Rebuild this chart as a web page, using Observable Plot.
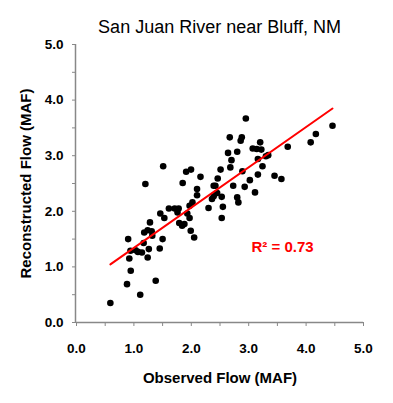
<!DOCTYPE html>
<html>
<head>
<meta charset="utf-8">
<script src="https://cdn.jsdelivr.net/npm/d3@7"></script>
<script src="https://cdn.jsdelivr.net/npm/@observablehq/plot@0.6"></script>
<style>
  html, body { margin: 0; padding: 0; background: #fff; }
  #wrap { width: 393px; height: 403px; font-family: "Liberation Sans", Arial, sans-serif; }
  #title { height: 36px; padding-left: 76px; text-align: center; font-size: 18px; line-height: 18px; padding-top: 18px; box-sizing: border-box; width: 363px; color: #000; }
  svg { display: block; }
</style>
</head>
<body>
<div id="wrap">
  <div id="title"></div>
</div>
<script>
const titleText = "San Juan River near Bluff, NM";
const xLabel = "Observed Flow (MAF)";
const yLabel = "Reconstructed Flow (MAF)";
const r2Label = "R\u00B2 = 0.73";
const r2Pos = [{x: 3.59, y: 1.35}];
const majorTicks = [0, 1, 2, 3, 4, 5];
const minorTicks = [0.5, 1.5, 2.5, 3.5, 4.5];

const observed = [
  0.59, 0.88, 0.90, 0.92, 0.945, 0.94, 1.03, 1.07, 1.11, 1.14,
  1.20, 1.17, 1.18, 1.24, 1.26, 1.24, 1.28, 1.31, 1.32, 1.38,
  1.45, 1.50, 1.46, 1.53, 1.51, 1.61, 1.71, 1.78, 1.76, 1.79,
  1.84, 1.88, 1.85, 1.91, 1.995, 1.93, 1.97, 1.99, 2.05, 1.97,
  2.02, 2.10, 2.10, 2.16, 2.30, 2.36, 2.39, 2.39, 2.42, 2.46,
  2.45, 2.53, 2.55, 2.53, 2.51, 2.68, 2.70, 2.64, 2.67, 2.73,
  2.80, 2.82, 2.80, 2.86, 2.88, 2.89, 2.95, 2.93, 3.02, 3.11,
  3.07, 3.14, 3.20, 3.22, 3.16, 3.16, 3.24, 3.30, 3.34, 3.45,
  3.57, 3.68, 4.08, 4.17, 4.46
];
const reconstructed = [
  0.35, 0.69, 1.50, 1.15, 0.93, 1.29, 1.30, 1.27, 0.50, 1.26,
  2.49, 1.43, 1.62, 1.17, 1.32, 1.66, 1.80, 1.64, 1.56, 0.75,
  1.33, 1.50, 1.96, 1.88, 2.81, 2.05, 2.05, 2.05, 1.98, 1.79,
  1.74, 1.77, 2.51, 2.71, 2.75, 1.96, 1.88, 1.65, 1.53, 2.10,
  2.16, 2.29, 2.40, 2.62, 2.06, 2.22, 2.27, 2.46, 2.46, 2.59,
  2.33, 2.26, 2.08, 1.88, 2.75, 2.79, 2.92, 3.05, 3.33, 2.46,
  2.25, 2.16, 3.07, 3.27, 3.33, 2.72, 3.67, 2.44, 2.56, 2.34,
  3.13, 3.12, 3.24, 3.11, 2.94, 2.66, 2.81, 2.99, 3.01, 2.64,
  2.58, 3.16, 3.24, 3.39, 3.54
];

const data = observed.map((x, i) => ({x, y: reconstructed[i]}));
const fmt = d3.format(".1f");
const axisColor = "#888";
const font = "Liberation Sans, Arial, sans-serif";

const chart = Plot.plot({
  width: 393,
  height: 367,
  marginLeft: 76,
  marginRight: 30,
  marginTop: 8,
  marginBottom: 81,
  style: {fontFamily: font, background: "#fff", color: "#000", overflow: "visible"},
  x: {domain: [0, 5], axis: null},
  y: {domain: [0, 5], axis: null},
  marks: [
    Plot.axisX(majorTicks, {tickSize: 4, tickPadding: 17, tickFormat: fmt, stroke: axisColor, fill: "#000", fontSize: 13.5, fontWeight: "bold", label: null}),
    Plot.axisX(minorTicks, {tickSize: 4, tickFormat: () => "", stroke: axisColor, label: null}),
    Plot.axisY(majorTicks, {tickSize: 4, tickPadding: 9, tickFormat: fmt, stroke: axisColor, fill: "#000", fontSize: 13.5, fontWeight: "bold", label: null}),
    Plot.axisY(minorTicks, {tickSize: 4, tickFormat: () => "", stroke: axisColor, label: null}),
    Plot.ruleY([0], {stroke: axisColor, strokeWidth: 1.5}),
    Plot.ruleX([0], {stroke: axisColor, strokeWidth: 1.5, dx: -1}),
    Plot.dot(data, {x: "x", y: "y", r: 3.3, fill: "#000", stroke: "none"}),
    Plot.linearRegressionY(data, {x: "x", y: "y", stroke: "#ff0000", strokeWidth: 2, ci: 0}),
    Plot.text(r2Pos, {x: "x", y: "y", text: () => r2Label, fill: "#ff0000", fontSize: 15, fontWeight: "bold", fontFamily: font}),
    Plot.text([xLabel], {frameAnchor: "bottom", textAnchor: "middle", dy: 56, lineAnchor: "middle", fontSize: 15, fontWeight: "bold", fill: "#000", fontFamily: font}),
    Plot.text([yLabel], {frameAnchor: "left", textAnchor: "middle", dx: -50, rotate: -90, lineAnchor: "middle", fontSize: 15, fontWeight: "bold", fill: "#000", fontFamily: font})
  ]
});
document.getElementById("title").textContent = titleText;
document.getElementById("wrap").appendChild(chart);
</script>
</body>
</html>
